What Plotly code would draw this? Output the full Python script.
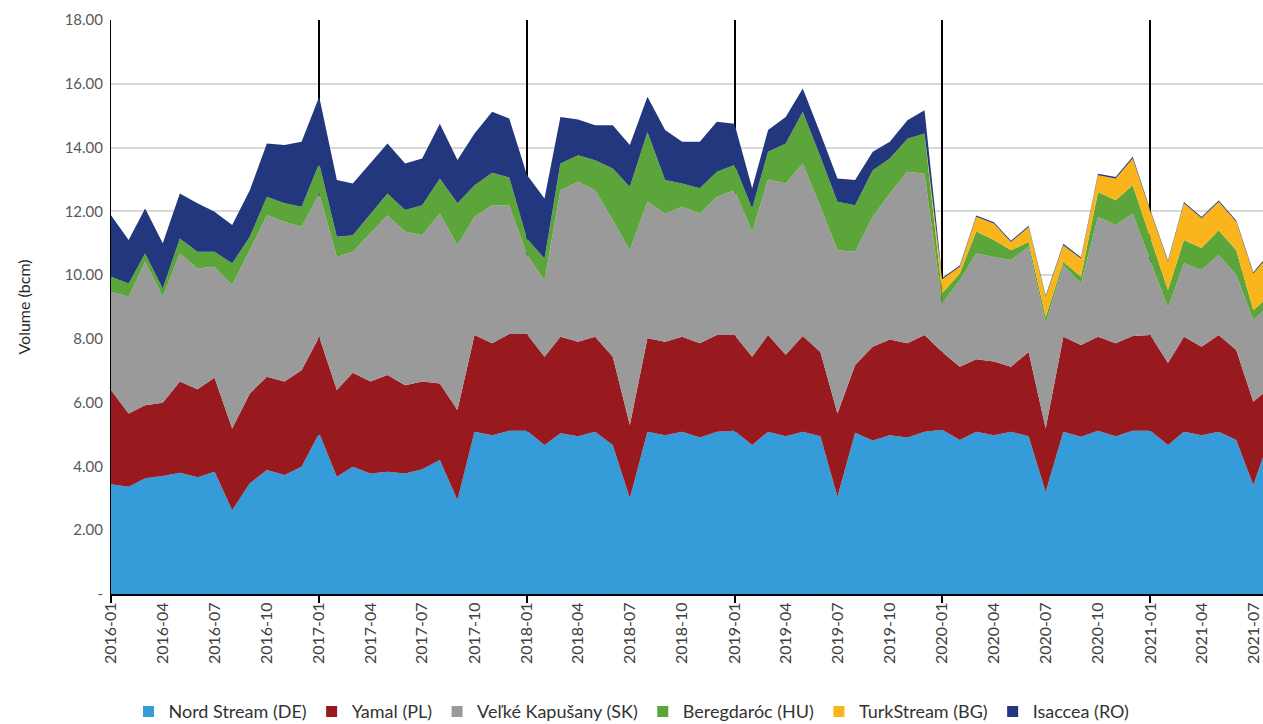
import pandas as pd
import plotly.graph_objects as go

# ---- data (bcm per month) ----
months = pd.date_range("2016-01-01", periods=68, freq="MS")

nord_stream = [3.44, 3.36, 3.63, 3.70, 3.80, 3.66, 3.83, 2.63, 3.47, 3.89, 3.73, 3.99,
               5.04, 3.68, 3.99, 3.78, 3.83, 3.78, 3.91, 4.20, 2.95, 5.09, 4.98, 5.12,
               5.12, 4.67, 5.04, 4.95, 5.09, 4.67, 3.00, 5.09, 4.98, 5.09, 4.91, 5.09,
               5.12, 4.67, 5.09, 4.95, 5.09, 4.95, 3.05, 5.06, 4.81, 4.98, 4.91, 5.09,
               5.15, 4.83, 5.09, 4.98, 5.09, 4.95, 3.20, 5.09, 4.93, 5.12, 4.95, 5.12,
               5.12, 4.67, 5.09, 4.98, 5.09, 4.83, 3.42, 5.00]

yamal = [2.96, 2.30, 2.29, 2.30, 2.86, 2.76, 2.95, 2.56, 2.82, 2.92, 2.93, 3.03,
         3.03, 2.72, 2.95, 2.88, 3.04, 2.77, 2.75, 2.40, 2.82, 3.03, 2.88, 3.03,
         3.03, 2.77, 3.03, 2.96, 2.98, 2.77, 2.30, 2.93, 2.93, 2.98, 2.95, 3.03,
         3.00, 2.77, 3.03, 2.55, 3.00, 2.64, 2.61, 2.12, 2.94, 3.00, 2.95, 3.03,
         2.44, 2.30, 2.27, 2.31, 2.04, 2.64, 1.99, 2.98, 2.88, 2.95, 2.91, 2.97,
         3.00, 2.57, 2.98, 2.77, 3.03, 2.82, 2.61, 1.50]

velke_kapusany = [3.08, 3.66, 4.50, 3.32, 4.02, 3.79, 3.48, 4.50, 4.49, 5.07, 5.01, 4.49,
                  4.49, 4.17, 3.79, 4.65, 5.01, 4.81, 4.59, 5.33, 5.17, 3.71, 4.33, 4.04,
                  2.50, 2.40, 4.59, 5.02, 4.59, 4.28, 5.48, 4.28, 4.02, 4.07, 4.07, 4.34,
                  4.54, 3.92, 4.88, 5.37, 5.41, 4.55, 5.12, 3.55, 4.08, 4.58, 5.38, 5.06,
                  1.52, 2.71, 3.32, 3.28, 3.34, 3.30, 3.29, 2.24, 1.93, 3.76, 3.71, 3.84,
                  2.33, 1.73, 2.30, 2.41, 2.51, 2.35, 2.57, 2.60]

beregdaroc = [0.47, 0.42, 0.26, 0.26, 0.47, 0.52, 0.47, 0.68, 0.42, 0.58, 0.58, 0.63,
              0.94, 0.63, 0.52, 0.62, 0.68, 0.68, 0.94, 1.10, 1.31, 0.99, 1.02, 0.87,
              0.50, 0.68, 0.84, 0.83, 0.94, 1.62, 1.99, 2.19, 1.05, 0.73, 0.79, 0.78,
              0.79, 0.73, 0.87, 1.26, 1.62, 1.57, 1.52, 1.46, 1.46, 1.10, 1.04, 1.26,
              0.32, 0.21, 0.69, 0.53, 0.31, 0.15, 0.21, 0.11, 0.21, 0.78, 0.78, 0.89,
              0.70, 0.56, 0.73, 0.69, 0.78, 0.78, 0.30, 0.30]

turkstream = [0.00] * 48 + [0.44, 0.21, 0.46, 0.52, 0.26, 0.47, 0.63, 0.52, 0.57, 0.52, 0.68, 0.84,
                            0.85, 0.89, 1.15, 0.93, 0.89, 0.89, 1.15, 1.30]

isaccea = [1.93, 1.36, 1.41, 1.42, 1.41, 1.52, 1.26, 1.20, 1.46, 1.67, 1.83, 2.04,
           2.09, 1.78, 1.62, 1.57, 1.57, 1.46, 1.47, 1.72, 1.36, 1.62, 1.91, 1.85,
           2.00, 1.88, 1.46, 1.12, 1.10, 1.36, 1.31, 1.10, 1.57, 1.31, 1.46, 1.57,
           1.30, 0.63, 0.68, 0.83, 0.73, 0.73, 0.73, 0.79, 0.58, 0.52, 0.58, 0.73,
           0.04, 0.04, 0.04, 0.04, 0.04, 0.04, 0.04, 0.04, 0.04, 0.05, 0.05, 0.05,
           0.04, 0.04, 0.04, 0.04, 0.04, 0.04, 0.04, 0.04]

series_names = ["Nord Stream (DE)", "Yamal (PL)", "Veľké Kapušany (SK)",
                "Beregdaróc (HU)", "TurkStream (BG)", "Isaccea (RO)"]
series_values = [nord_stream, yamal, velke_kapusany, beregdaroc, turkstream, isaccea]
series_colors = ["#359bd9", "#981a1f", "#9a9a9a", "#5ca53a", "#fbb51c", "#22377d"]

y_ticks = [0, 2, 4, 6, 8, 10, 12, 14, 16, 18]
y_tick_text = ["-"] + [f"{v:.2f}" for v in y_ticks[1:]]

x_range = ["2016-01-01", "2021-07-18"]
FONT = "Lato"

fig = go.Figure()
for name, vals, col in zip(series_names, series_values, series_colors):
    fig.add_trace(go.Scatter(
        x=months, y=vals, name=name, mode="lines", stackgroup="one",
        line=dict(width=0, color=col), fillcolor=col, showlegend=False,
    ))

# legend entries drawn as small squares (legend-only traces)
for name, col in zip(series_names, series_colors):
    fig.add_trace(go.Scatter(
        x=[None], y=[None], name=name, mode="markers",
        marker=dict(symbol="square", size=11, color=col), showlegend=True,
    ))

# helper trace carrying the yearly grid axis
fig.add_trace(go.Scatter(x=[months[0], months[-1]], y=[0, 0], xaxis="x2",
                         mode="lines", line=dict(width=0), showlegend=False,
                         hoverinfo="skip", opacity=0))

fig.update_layout(
    width=1263, height=724,
    margin=dict(l=111, r=0, t=20, b=130),
    paper_bgcolor="white", plot_bgcolor="white",
    font=dict(family=FONT, color="#404040"),
    showlegend=True,
    legend=dict(orientation="h", xref="container", yref="container",
                x=0.5, xanchor="center", y=0.017, yanchor="middle",
                font=dict(size=18, color="#333333", family=FONT),
                traceorder="normal", itemwidth=30),
    xaxis=dict(type="date", range=x_range, dtick="M3", tick0="2016-01-01",
               tickformat="%Y-%m", tickangle=-90, showgrid=False,
               ticks="", showline=True, linecolor="black", linewidth=2,
               tickfont=dict(size=16, color="#404040", family=FONT)),
    xaxis2=dict(type="date", range=x_range, dtick="M12", tick0="2016-01-01",
                overlaying="x", anchor="y", side="bottom",
                showticklabels=False, showgrid=True, gridcolor="black",
                gridwidth=1.5, ticks="outside", ticklen=8, tickcolor="black",
                tickwidth=1.5, showline=False, zeroline=False),
    yaxis=dict(range=[0, 18], tickvals=y_ticks, ticktext=y_tick_text,
               showgrid=True, gridcolor="#d9d9d9", gridwidth=1.5,
               zeroline=False, showline=True, linecolor="black", linewidth=1,
               ticks="", ticklabelstandoff=4,
               tickfont=dict(size=15, color="#595959", family=FONT),
               title=dict(text="Volume (bcm)", standoff=30,
                          font=dict(size=16, color="#262626", family=FONT))),
)

fig.write_html("out.html",
               config={"displayModeBar": False},
               post_script="document.body.style.margin='0';"
                           "document.body.style.overflow='hidden';")
